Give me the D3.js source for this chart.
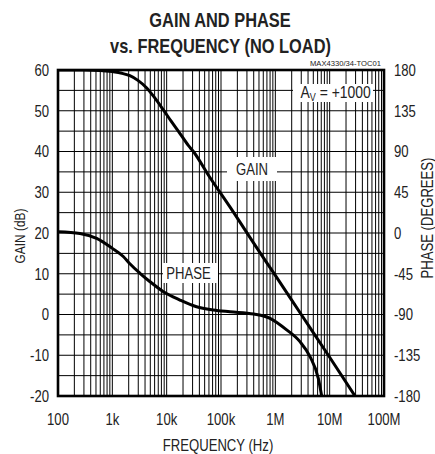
<!DOCTYPE html>
<html>
<head>
<meta charset="utf-8">
<script src="https://cdn.jsdelivr.net/npm/d3@7"></script>
<style>
  html, body { margin: 0; padding: 0; background: #fff; }
  svg { display: block; }
  text { font-family: "Liberation Sans", Arial, sans-serif; fill: #222; }
</style>
</head>
<body>
<svg id="chart" width="435" height="454"></svg>
<script>
// ---- data ----
const freqTicks = [100, 1e3, 1e4, 1e5, 1e6, 1e7, 1e8];
const freqLabels = ["100", "1k", "10k", "100k", "1M", "10M", "100M"];
const gainTicks = [-20, -10, 0, 10, 20, 30, 40, 50, 60];
const phaseTicks = [-180, -135, -90, -45, 0, 45, 90, 135, 180];

const gainFreq = [100, 300, 600, 1000, 1500, 2100, 3000, 4300, 6000, 8700, 12000, 17600, 25000, 31000, 60000, 146000, 486000, 1e6, 3e6, 1e7, 2.93e7];
const gainDb   = [60, 60, 59.9, 59.6, 59.2, 58.6, 57.4, 55.6, 53.2, 50.2, 47.5, 44.4, 41.5, 40.0, 34.0, 26.4, 15.8, 9.6, 0, -10.5, -20];

const phaseFreq = [100, 254, 515, 1000, 1590, 2100, 3230, 4940, 8700, 17600, 35500, 72000, 146000, 400000, 798000, 1.62e6, 2.84e6, 4.35e6, 6.18e6, 7.13e6];
const phaseDeg  = [1.5, -0.5, -6, -17, -26, -34, -44.5, -53.8, -64.8, -74, -81.4, -85, -87, -89.5, -94.2, -107, -120, -136.6, -160.5, -180];

// ---- layout ----
const L = 58, R = 384, T = 70, B = 396;
const NARROW = 0.82;
const svg = d3.select("#chart");

const x = d3.scaleLog().domain([100, 1e8]).range([L, R]);
const yG = d3.scaleLinear().domain([-20, 60]).range([B, T]);
const yP = d3.scaleLinear().domain([-180, 180]).range([B, T]);

// narrow-text helper (Arial Narrow look via horizontal scaling of Liberation Sans)
function ntext(parent, px, py, str, size, anchor, rot, weight) {
  const t = parent.append("text")
    .attr("transform", `translate(${px},${py})${rot ? ` rotate(${rot})` : ""} scale(${NARROW},1)`)
    .attr("text-anchor", anchor || "start")
    .style("font-size", size + "px");
  if (weight) t.style("font-weight", weight);
  if (str !== null) t.text(str);
  return t;
}

// grid
const grid = svg.append("g").attr("stroke", "#000").attr("stroke-width", 1);
const vLines = [];
for (let d = 100; d < 1e8; d *= 10) for (let k = 1; k <= 9; k++) vLines.push(d * k);
grid.selectAll("line.v").data(vLines).join("line")
  .attr("x1", d => x(d)).attr("x2", d => x(d)).attr("y1", T).attr("y2", B);
grid.selectAll("line.h").data(d3.range(-20, 61, 5)).join("line")
  .attr("x1", L).attr("x2", R).attr("y1", d => yG(d)).attr("y2", d => yG(d));

// label boxes (white background)
const boxes = svg.append("g").attr("fill", "#fff");
boxes.append("rect").attr("x", 227).attr("y", 157).attr("width", 50).attr("height", 24);
boxes.append("rect").attr("x", 163).attr("y", 263).attr("width", 55).attr("height", 20);
boxes.append("rect").attr("x", 293).attr("y", 84).attr("width", 80).attr("height", 18);

// curves
svg.append("clipPath").attr("id", "clip").append("rect")
  .attr("x", L).attr("y", T).attr("width", R - L).attr("height", B - T);
const lineG = d3.line().x(d => x(d[0])).y(d => yG(d[1])).curve(d3.curveMonotoneX);
const lineP = d3.line().x(d => x(d[0])).y(d => yP(d[1])).curve(d3.curveMonotoneX);
svg.append("path").attr("clip-path", "url(#clip)")
  .attr("d", lineG(gainFreq.map((f, i) => [f, gainDb[i]])))
  .attr("fill", "none").attr("stroke", "#000").attr("stroke-width", 3);
svg.append("path").attr("clip-path", "url(#clip)")
  .attr("d", lineP(phaseFreq.map((f, i) => [f, phaseDeg[i]])))
  .attr("fill", "none").attr("stroke", "#000").attr("stroke-width", 3);

// frame
svg.append("rect").attr("x", L).attr("y", T).attr("width", R - L).attr("height", B - T)
  .attr("fill", "none").attr("stroke", "#000").attr("stroke-width", 2.6);

// tick labels (positions from scales)
const fs = 16;
const tl = svg.append("g");
gainTicks.forEach(v => ntext(tl, L - 9, yG(v) + 5.8, String(v), fs, "end"));
phaseTicks.forEach(v => ntext(tl, R + 10, yP(v) + 5.8, String(v), fs, "start"));
freqTicks.forEach((v, i) => ntext(tl, x(v), 425, freqLabels[i], fs, "middle"));

// titles
ntext(svg, 220, 27, "GAIN AND PHASE", 20, "middle", 0, "bold");
ntext(svg, 220.5, 53, "vs. FREQUENCY (NO LOAD)", 20, "middle", 0, "bold");
svg.append("text").attr("x", 381).attr("y", 65.5).attr("text-anchor", "end")
  .style("font-size", "8px").attr("textLength", 71).attr("lengthAdjust", "spacingAndGlyphs")
  .text("MAX4330/34-TOC01");

ntext(svg, 218, 451, "FREQUENCY (Hz)", fs, "middle");
ntext(svg, 25, 236, "GAIN (dB)", 14.5, "middle", -90);
ntext(svg, 433, 218, "PHASE (DEGREES)", 16, "middle", -90);

// in-plot labels
ntext(svg, 252, 174.5, "GAIN", fs, "middle");
ntext(svg, 188.5, 279, "PHASE", fs, "middle");
const av = ntext(svg, 300.5, 97.5, null, 17, "start");
av.append("tspan").text("A");
av.append("tspan").attr("dy", 3).style("font-size", "11px").text("V");
av.append("tspan").attr("dy", -3).text(" = +1000");
</script>
</body>
</html>
